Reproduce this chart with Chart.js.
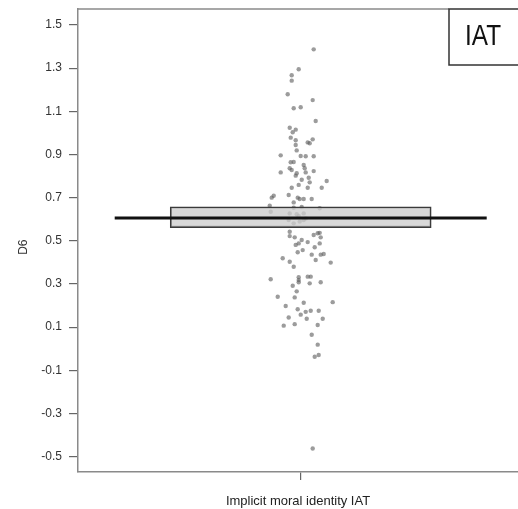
<!DOCTYPE html>
<html>
<head>
<meta charset="utf-8">
<script src="https://cdn.jsdelivr.net/npm/chart.js@4/dist/chart.umd.min.js"></script>
<style>
  html, body { margin: 0; padding: 0; background: #fff; overflow: hidden; }
  #c { display: block; }
</style>
</head>
<body>
<canvas id="c" width="518" height="509"></canvas>
<script>
// ---- data ----
const category = "Implicit moral identity IAT";
const yAxisLabel = "D6";
const panelLabel = "IAT";
const yTicks = [-0.5, -0.3, -0.1, 0.1, 0.3, 0.5, 0.7, 0.9, 1.1, 1.3, 1.5];
// per-participant D6 scores and their horizontal jitter
const d6Values = [
  1.387, 1.295, 1.267, 1.242, 1.179, 1.152, 1.114, 1.119, 1.055, 1.024,
  1.015, 1.003, 0.978, 0.966, 0.970, 0.956, 0.952, 0.944, 0.919, 0.896,
  0.893, 0.892, 0.892, 0.864, 0.865, 0.836, 0.828, 0.851, 0.836, 0.817,
  0.823, 0.813, 0.817, 0.802, 0.783, 0.792, 0.771, 0.777, 0.746, 0.746,
  0.746, 0.759, 0.709, 0.700, 0.712, 0.700, 0.694, 0.694, 0.694, 0.678,
  0.663, 0.653, 0.657, 0.651, 0.635, 0.627, 0.623, 0.627, 0.596, 0.589,
  0.604, 0.615, 0.581, 0.596, 0.542, 0.522, 0.516, 0.488, 0.481, 0.504,
  0.494, 0.527, 0.535, 0.537, 0.516, 0.488, 0.470, 0.457, 0.447, 0.436,
  0.436, 0.439, 0.419, 0.411, 0.403, 0.380, 0.399, 0.322, 0.331, 0.318,
  0.308, 0.334, 0.334, 0.303, 0.308, 0.292, 0.266, 0.241, 0.238, 0.213,
  0.216, 0.198, 0.183, 0.171, 0.176, 0.176, 0.158, 0.145, 0.139, 0.139,
  0.107, 0.114, 0.110, 0.065, 0.019, -0.037, -0.029, -0.462
];
const jitter = [
  0.13, -0.02, -0.09, -0.09, -0.13, 0.12, -0.07, 0.00, 0.15, -0.11,
  -0.05, -0.08, -0.10, -0.05, 0.12, 0.07, 0.09, -0.05, -0.04, -0.20,
  0.00, 0.05, 0.13, -0.10, -0.07, -0.11, -0.09, 0.03, 0.04, -0.20,
  0.13, -0.04, 0.05, -0.05, 0.01, 0.08, 0.09, 0.26, -0.09, 0.07,
  0.21, -0.02, -0.27, -0.29, -0.12, -0.03, -0.01, 0.03, 0.11, -0.07,
  -0.31, -0.07, 0.01, 0.19, -0.30, -0.11, -0.04, 0.03, -0.12, -0.01,
  0.05, -0.02, -0.07, 0.03, -0.11, -0.11, -0.06, -0.02, -0.05, 0.01,
  0.07, 0.13, 0.17, 0.19, 0.20, 0.19, 0.14, 0.02, -0.03, 0.11,
  0.20, 0.23, -0.18, 0.15, -0.11, -0.07, 0.30, -0.30, -0.02, -0.02,
  -0.02, 0.07, 0.10, 0.09, 0.20, -0.08, -0.04, -0.23, -0.06, 0.03,
  0.32, -0.15, -0.03, 0.05, 0.10, 0.18, 0.00, -0.12, 0.06, 0.22,
  -0.17, -0.06, 0.17, 0.11, 0.17, 0.14, 0.18, 0.12
];
const boxQ1 = 0.561;
const boxQ3 = 0.658;
const median = 0.606;

// ---- layout constants (not data) ----
const MED_HALF = 1.86;      // x units

const points = d6Values.map((v, i) => ({ x: jitter[i], y: v }));

const framePlugin = {
  id: 'frame',
  afterDraw(chart) {
    const ctx = chart.ctx;
    const a = chart.chartArea;
    const boxLeft = 449, boxTop = a.top, boxBottom = 65;
    ctx.save();
    ctx.strokeStyle = '#8a8a8a';
    ctx.lineWidth = 1.5;
    ctx.beginPath();
    ctx.moveTo(a.left, a.top);
    ctx.lineTo(boxLeft, a.top);
    ctx.stroke();
    ctx.fillStyle = '#fff';
    ctx.fillRect(boxLeft, boxTop, 80, boxBottom - boxTop);
    ctx.strokeStyle = '#333';
    ctx.lineWidth = 1.5;
    ctx.strokeRect(boxLeft, boxTop, 80, boxBottom - boxTop);
    ctx.fillStyle = '#111';
    ctx.font = '29px "Liberation Sans", Arial, sans-serif';
    ctx.textAlign = 'center';
    ctx.textBaseline = 'middle';
    ctx.translate(483, 37);
    ctx.scale(0.84, 1);
    ctx.fillText(panelLabel, 0, 0);
    ctx.restore();
  }
};

new Chart(document.getElementById('c'), {
  type: 'scatter',
  data: {
    datasets: [
      {
        label: 'points',
        data: points,
        pointRadius: 2.2,
        pointBorderWidth: 0,
        pointBackgroundColor: 'rgba(90,90,90,0.6)',
        order: 3
      },
      {
        type: 'bar',
        label: 'box',
        data: [{ x: 0, y: [boxQ1, boxQ3] }],
        backgroundColor: 'rgba(205,205,205,0.78)',
        borderColor: '#3a3a3a',
        borderWidth: 1.5,
        borderSkipped: false,
        barThickness: 261,
        order: 2
      },
      {
        type: 'line',
        label: 'median',
        data: [{ x: -MED_HALF, y: median }, { x: MED_HALF, y: median }],
        borderColor: '#111',
        borderWidth: 3,
        pointRadius: 0,
        fill: false,
        order: 1
      }
    ]
  },
  options: {
    responsive: false,
    animation: false,
    devicePixelRatio: 1,
    layout: { autoPadding: false, padding: { top: 9, left: 0, right: 0, bottom: 0 } },
    plugins: { legend: { display: false }, tooltip: { enabled: false } },
    scales: {
      x: {
        type: 'linear',
        min: -2.227,
        max: 2.173,
        offset: false,
        afterBuildTicks: (axis) => { axis.ticks = [{ value: 0 }]; },
        afterFit: (s) => { s.height = 37; s.paddingLeft = 0; s.paddingRight = 0; },
        ticks: { callback: () => '', font: { size: 1 } },
        grid: { drawOnChartArea: false, offset: false, tickLength: 8, color: '#666', lineWidth: 1.2 },
        border: { color: '#8a8a8a', width: 1.5 },
        title: {
          display: true,
          text: category,
          color: '#222',
          font: { family: '"Liberation Sans", Arial, sans-serif', size: 13 },
          padding: { top: 0, bottom: 0 }
        }
      },
      y: {
        type: 'linear',
        min: -0.571,
        max: 1.574,
        afterBuildTicks: (axis) => { axis.ticks = yTicks.map(v => ({ value: v })); },
        afterFit: (s) => { s.width = 78; s.paddingTop = 0; s.paddingBottom = 0; },
        ticks: {
          callback: (v) => Number(v).toFixed(1),
          color: '#333',
          padding: 7,
          font: { family: '"Liberation Sans", Arial, sans-serif', size: 12 }
        },
        grid: { drawOnChartArea: false, tickLength: 9, color: '#666', lineWidth: 1.2 },
        border: { color: '#8a8a8a', width: 1.5 },
        title: {
          display: true,
          text: yAxisLabel + '    ',
          color: '#333',
          font: { family: '"Liberation Sans", Arial, sans-serif', size: 12 },
          padding: { top: 16, bottom: 0 }
        }
      }
    }
  },
  plugins: [framePlugin]
});
</script>
</body>
</html>
